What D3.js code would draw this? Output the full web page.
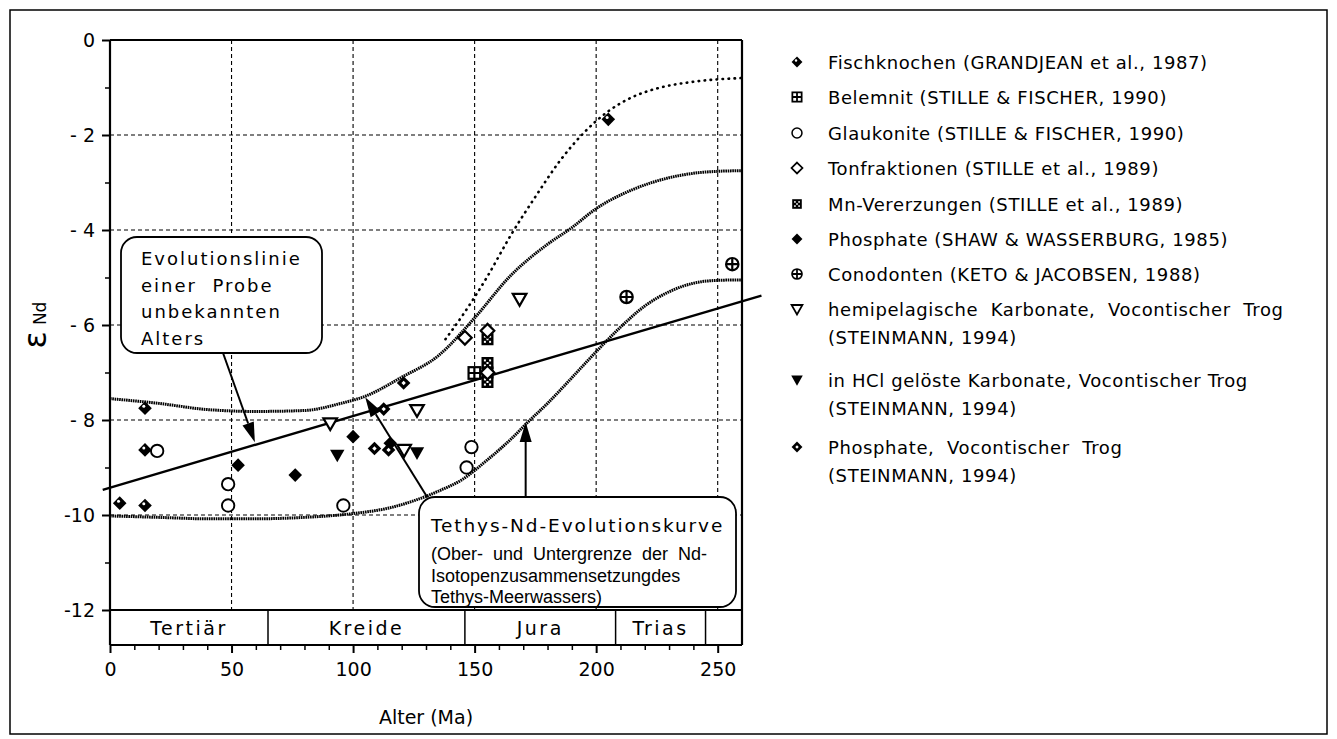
<!DOCTYPE html>
<html><head><meta charset="utf-8">
<script src="https://cdn.jsdelivr.net/npm/d3@7"></script>
<style>
body{margin:0;background:#fff}
svg{display:block}
text{font-family:"DejaVu Sans",Verdana,sans-serif;fill:#000}
</style>
</head><body>
<svg id="c" width="1337" height="739"></svg>
<script>
// ---------- data ----------
const xTicks = [0, 50, 100, 150, 200, 250];
const yTicks = [0, -2, -4, -6, -8, -10, -12];
const periods = ["Tertiär", "Kreide", "Jura", "Trias"];
const periodStart = [0, 65, 146, 208];
const periodEnd = [65, 146, 208, 245];

const upperAge = [0, 20, 40, 60, 80, 95, 105, 120, 135, 150, 165, 180, 190, 200, 215, 230, 245, 260];
const upperEps = [-7.55, -7.65, -7.78, -7.82, -7.8, -7.65, -7.5, -7.1, -6.65, -5.85, -4.95, -4.3, -3.95, -3.55, -3.15, -2.9, -2.78, -2.75];
const lowerAge = [0, 20, 40, 60, 80, 100, 115, 125, 135, 145, 155, 165, 172, 180, 188, 196, 204, 212, 220, 230, 240, 250, 260];
const lowerEps = [-10.02, -10.05, -10.08, -10.08, -10.05, -9.97, -9.85, -9.7, -9.5, -9.25, -8.85, -8.4, -8.04, -7.65, -7.22, -6.78, -6.35, -5.95, -5.6, -5.3, -5.12, -5.06, -5.05];
const dottedAge = [138, 145, 155, 165, 175, 185, 195, 205, 215, 225, 240, 260];
const dottedEps = [-6.3, -5.8, -5.0, -4.1, -3.3, -2.55, -1.95, -1.5, -1.2, -1.02, -0.88, -0.8];
const lineAge = [-3, 268];
const lineEps = [-9.47, -5.38];

const fischX = [205, 4, 14.4, 14.4, 14.4], fischY = [-1.67, -9.75, -9.8, -7.75, -8.63];
const belX = [149.9], belY = [-7.01];
const glaukX = [19.4, 48.6, 48.6, 96, 148.7, 146.7], glaukY = [-8.65, -9.35, -9.8, -9.8, -8.57, -9.0];
const tonX = [146, 155.3, 155.3], tonY = [-6.27, -6.12, -7.0];
const mnX = [155.3, 155.3, 155.3, 155.3], mnY = [-6.3, -6.8, -7.0, -7.2];
const shawX = [52.7, 76.2, 100, 115.3], shawY = [-8.95, -9.16, -8.35, -8.49];
const conoX = [212.5, 256], conoY = [-5.41, -4.72];
const hemiX = [90.6, 121, 126.3, 168.5], hemiY = [-8.07, -8.63, -7.79, -5.45];
const hclX = [93.5, 126.3], hclY = [-8.74, -8.69];
const vocX = [112.6, 120.8, 108.8, 114.6], vocY = [-7.77, -7.22, -8.6, -8.63];

const legendLabels = [
  ["Fischknochen (GRANDJEAN et al., 1987)"],
  ["Belemnit (STILLE & FISCHER, 1990)"],
  ["Glaukonite (STILLE & FISCHER, 1990)"],
  ["Tonfraktionen (STILLE et al., 1989)"],
  ["Mn-Vererzungen (STILLE et al., 1989)"],
  ["Phosphate (SHAW & WASSERBURG, 1985)"],
  ["Conodonten (KETO & JACOBSEN, 1988)"],
  ["hemipelagische  Karbonate,  Vocontischer  Trog", "(STEINMANN, 1994)"],
  ["in HCl gelöste Karbonate, Vocontischer Trog", "(STEINMANN, 1994)"],
  ["Phosphate,  Vocontischer  Trog", "(STEINMANN, 1994)"]
];
const legendKeys = ["fisch", "bel", "glauk", "ton", "mn", "shaw", "cono", "hemi", "hcl", "voc"];

// ---------- layout ----------
const svg = d3.select("#c");
const x = d3.scaleLinear().domain([0, 260]).range([110, 742]);
const y = d3.scaleLinear().domain([0, -12]).range([40, 610]);
const bandBottom = 645;

svg.append("rect").attr("x", 10).attr("y", 10).attr("width", 1317).attr("height", 724)
  .attr("fill", "none").attr("stroke", "#000").attr("stroke-width", 1.5);

// grid
const grid = svg.append("g").attr("stroke", "#000").attr("stroke-width", 1.1).attr("stroke-dasharray", "4,3");
grid.selectAll(".gv").data([50, 100, 150, 200, 250]).join("line")
  .attr("x1", d => x(d)).attr("x2", d => x(d)).attr("y1", y(0)).attr("y2", y(-12));
grid.selectAll(".gh").data([-2, -4, -6, -8, -10]).join("line")
  .attr("x1", x(0)).attr("x2", x(260)).attr("y1", d => y(d)).attr("y2", d => y(d));

// y axis
const yAxis = d3.axisLeft(y).tickValues(yTicks).tickSize(8).tickPadding(7)
  .tickFormat(d => d === 0 ? "0" : (Math.abs(d) < 10 ? "- " + Math.abs(d) : "-" + Math.abs(d)));
const ya = svg.append("g").attr("transform", `translate(${x(0)},0)`).call(yAxis);
ya.select(".domain").remove();
ya.selectAll("line").attr("stroke-width", 2);
ya.selectAll("text").attr("font-size", 19).style("font-family", '"DejaVu Sans",sans-serif');
const yMinor = d3.axisLeft(y).tickValues([-1, -3, -5, -7, -9, -11]).tickSize(5).tickFormat("");
const ym = svg.append("g").attr("transform", `translate(${x(0)},0)`).call(yMinor);
ym.select(".domain").remove();
ym.selectAll("line").attr("stroke-width", 1.5);

// x axis at bottom of band
const xAxis = d3.axisBottom(x).tickValues(xTicks).tickSize(8).tickPadding(10);
const xa = svg.append("g").attr("transform", `translate(0,${bandBottom})`).call(xAxis);
xa.select(".domain").remove();
xa.selectAll("line").attr("stroke-width", 2);
xa.selectAll("text").attr("font-size", 19).style("font-family", '"DejaVu Sans",sans-serif');
const xMinor = d3.axisBottom(x).tickValues(d3.range(10, 260, 10).filter(v => v % 50 !== 0)).tickSize(5).tickFormat("");
const xm = svg.append("g").attr("transform", `translate(0,${bandBottom})`).call(xMinor);
xm.select(".domain").remove();
xm.selectAll("line").attr("stroke-width", 1.5);

// band
const band = svg.append("g");
band.selectAll("line.sep").data(periodEnd).join("line")
  .attr("x1", d => x(d)).attr("x2", d => x(d)).attr("y1", y(-12)).attr("y2", bandBottom)
  .attr("stroke", "#000").attr("stroke-width", 1.5);
band.selectAll("text").data(periods).join("text")
  .attr("x", (d, i) => x((periodStart[i] + periodEnd[i]) / 2)).attr("y", 635)
  .attr("text-anchor", "middle").attr("font-size", 19).attr("letter-spacing", 2.5)
  .text(d => d);

// frame lines
const frame = svg.append("g").attr("stroke", "#000").attr("stroke-width", 2.2).attr("fill", "none");
frame.append("line").attr("x1", x(0)).attr("x2", x(0)).attr("y1", y(0)).attr("y2", bandBottom);
frame.append("line").attr("x1", x(260)).attr("x2", x(260)).attr("y1", y(0)).attr("y2", bandBottom);
frame.append("line").attr("x1", x(0)).attr("x2", x(260)).attr("y1", y(0)).attr("y2", y(0));
frame.append("line").attr("x1", x(0)).attr("x2", x(260)).attr("y1", y(-12)).attr("y2", y(-12));
frame.append("line").attr("x1", x(0)).attr("x2", x(260)).attr("y1", bandBottom).attr("y2", bandBottom);

// curves
const lineGen = d3.line().x(d => x(d[0])).y(d => y(d[1])).curve(d3.curveMonotoneX);
const zip = (a, b) => a.map((v, i) => [v, b[i]]);
[[upperAge, upperEps], [lowerAge, lowerEps]].forEach(([a, e]) => {
  svg.append("path").datum(zip(a, e)).attr("d", lineGen)
    .attr("fill", "none").attr("stroke", "#000").attr("stroke-width", 3).attr("stroke-dasharray", "1.6,0.7");
});
svg.append("path").datum(zip(dottedAge, dottedEps)).attr("d", lineGen)
  .attr("fill", "none").attr("stroke", "#000").attr("stroke-width", 2.6).attr("stroke-dasharray", "0.5,5.5").attr("stroke-linecap", "round");
svg.append("path").datum(zip(lineAge, lineEps)).attr("d", d3.line().x(d => x(d[0])).y(d => y(d[1])))
  .attr("fill", "none").attr("stroke", "#000").attr("stroke-width", 2.4);

// markers
function marker(g, type, s) {
  const k = s || 1;
  const diamond = h => `M0,${-h}L${h},0L0,${h}L${-h},0Z`;
  if (type === "fisch") {
    g.append("path").attr("d", diamond(6.8 * k)).attr("fill", "#000");
    g.append("circle").attr("cx", -1.2 * k).attr("cy", -1.8 * k).attr("r", 1.5 * k).attr("fill", "#fff");
  } else if (type === "shaw") {
    g.append("path").attr("d", diamond(6.8 * k)).attr("fill", "#000");
  } else if (type === "voc") {
    g.append("path").attr("d", diamond(6.8 * k)).attr("fill", "#000");
    g.append("path").attr("d", diamond(2.2 * k)).attr("fill", "#fff");
  } else if (type === "ton") {
    g.append("path").attr("d", diamond(6.8 * k)).attr("fill", "#fff").attr("stroke", "#000").attr("stroke-width", 2.2 * k);
  } else if (type === "glauk") {
    g.append("circle").attr("r", 6.2 * k).attr("fill", "#fff").attr("stroke", "#000").attr("stroke-width", 1.9 * k);
  } else if (type === "cono") {
    g.append("circle").attr("r", 6.2 * k).attr("fill", "#fff").attr("stroke", "#000").attr("stroke-width", 2.2 * k);
    g.append("path").attr("d", `M${-6.2 * k},0H${6.2 * k}M0,${-6.2 * k}V${6.2 * k}`).attr("stroke", "#000").attr("stroke-width", 2.2 * k);
  } else if (type === "bel") {
    const h = 5.8 * k;
    g.append("rect").attr("x", -h).attr("y", -h).attr("width", 2 * h).attr("height", 2 * h)
      .attr("fill", "#fff").attr("stroke", "#000").attr("stroke-width", 2.2 * k);
    g.append("path").attr("d", `M${-h},0H${h}M0,${-h}V${h}`).attr("stroke", "#000").attr("stroke-width", 2.2 * k);
  } else if (type === "mn") {
    const h = 6 * k;
    g.append("rect").attr("x", -h).attr("y", -h).attr("width", 2 * h).attr("height", 2 * h).attr("fill", "#000");
    [[-2.6, -2.6], [2.6, -2.6], [-2.6, 2.6], [2.6, 2.6], [0, 0]].forEach(p => {
      g.append("rect").attr("x", (p[0] - 1) * k).attr("y", (p[1] - 1) * k).attr("width", 2 * k).attr("height", 2 * k).attr("fill", "#fff");
    });
  } else if (type === "hemi") {
    g.append("path").attr("d", `M${-6.8 * k},${-5 * k}L${6.8 * k},${-5 * k}L0,${6.8 * k}Z`)
      .attr("fill", "#fff").attr("stroke", "#000").attr("stroke-width", 2.2 * k).attr("stroke-linejoin", "miter");
  } else if (type === "hcl") {
    g.append("path").attr("d", `M${-7.2 * k},${-5.5 * k}L${7.2 * k},${-5.5 * k}L0,${7.2 * k}Z`).attr("fill", "#000");
  }
}

const seriesTable = [
  ["glauk", glaukX, glaukY], ["hemi", hemiX, hemiY], ["hcl", hclX, hclY],
  ["shaw", shawX, shawY], ["voc", vocX, vocY], ["fisch", fischX, fischY],
  ["bel", belX, belY], ["mn", mnX, mnY], ["ton", tonX, tonY], ["cono", conoX, conoY]
];
const pts = svg.append("g");
seriesTable.forEach(([type, xs, ys]) => {
  xs.forEach((v, i) => {
    const g = pts.append("g").attr("transform", `translate(${x(v)},${y(ys[i])})`);
    marker(g, type, 1);
  });
});

// annotation boxes
const ann = svg.append("g");
ann.append("rect").attr("x", 121).attr("y", 237).attr("width", 201).attr("height", 116).attr("rx", 16)
  .attr("fill", "#fff").attr("stroke", "#000").attr("stroke-width", 1.8);
["Evolutionslinie", "einer  Probe", "unbekannten", "Alters"].forEach((t, i) => {
  ann.append("text").attr("x", 141).attr("y", 265 + i * 26.5).attr("font-size", 18).attr("letter-spacing", 2)
    .style("white-space", "pre").text(t);
});
ann.append("rect").attr("x", 419).attr("y", 497).attr("width", 317).attr("height", 110).attr("rx", 16)
  .attr("fill", "#fff").attr("stroke", "#000").attr("stroke-width", 1.8);
ann.append("text").attr("x", 431).attr("y", 532).attr("font-size", 18.5).attr("letter-spacing", 1.9).text("Tethys-Nd-Evolutionskurve");
["(Ober-  und  Untergrenze  der  Nd-", "Isotopenzusammensetzungdes", "Tethys-Meerwassers)"].forEach((t, i) => {
  ann.append("text").attr("x", 431).attr("y", 560 + i * 21.5).attr("font-size", 18)
    .style("font-family", '"Liberation Sans Narrow","Liberation Sans",sans-serif').style("white-space", "pre").text(t);
});

// arrows
const arrows = [
  [[46.5, -6.59], [59.6, -8.47]],
  [[130.6, -9.63], [105, -7.52]],
  [[171, -9.63], [171, -8.04]]
];
const ag = svg.append("g");
arrows.forEach(([a, b]) => {
  const x1 = x(a[0]), y1 = y(a[1]), x2 = x(b[0]), y2 = y(b[1]);
  const ang = Math.atan2(y2 - y1, x2 - x1);
  const L = 20, Wd = 6;
  const bx = x2 - L * Math.cos(ang), by = y2 - L * Math.sin(ang);
  ag.append("line").attr("x1", x1).attr("y1", y1).attr("x2", bx).attr("y2", by).attr("stroke", "#000").attr("stroke-width", 2);
  const px = -Math.sin(ang) * Wd, py = Math.cos(ang) * Wd;
  ag.append("path").attr("d", `M${x2},${y2}L${bx + px},${by + py}L${bx - px},${by - py}Z`).attr("fill", "#000");
});

// axis titles
svg.append("text").attr("x", (x(0) + x(260)) / 2).attr("y", 724).attr("text-anchor", "middle")
  .attr("font-size", 19).text("Alter (Ma)");
const yt = svg.append("text").attr("transform", "translate(46,325) rotate(-90)").attr("text-anchor", "middle");
yt.append("tspan").attr("font-size", 32).text("ε");
yt.append("tspan").attr("font-size", 17).attr("dx", 6).text("Nd");

// legend
const lg = svg.append("g");
const legY = [62, 97, 133, 168, 204, 239, 274, 309, 380, 447];
legendLabels.forEach((lines, i) => {
  const g = lg.append("g").attr("transform", `translate(797,${legY[i]})`);
  marker(g, legendKeys[i], 0.8);
  lines.forEach((t, j) => {
    lg.append("text").attr("x", 828).attr("y", legY[i] + 6.5 + j * 28).attr("font-size", 18)
      .attr("letter-spacing", 0.6).style("white-space", "pre").text(t);
  });
});
</script>
</body></html>
